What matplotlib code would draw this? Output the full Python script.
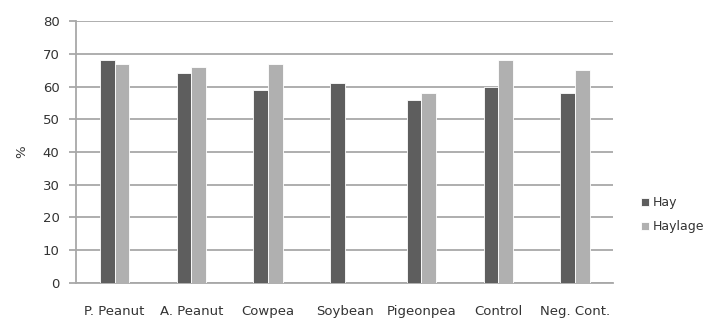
import numpy as np
import matplotlib.pyplot as plt

categories = ["P. Peanut", "A. Peanut", "Cowpea", "Soybean", "Pigeonpea", "Control", "Neg. Cont."]
hay = [68, 64, 59, 61, 56, 60, 58]
haylage = [67, 66, 67, np.nan, 58, 68, 65]

plt.rcParams['font.family'] = ['DejaVu Sans']

fig = plt.figure(figsize=(7.05, 3.2), dpi=100)
ax = fig.add_axes([0.108, 0.116, 0.762, 0.818])

x = np.arange(len(categories))
w = 0.19
ax.bar(x - w / 2, hay, width=w, color="#5e5e5e", edgecolor="white", linewidth=0.6, label="Hay", zorder=3)
ax.bar(x + w / 2, haylage, width=w, color="#b0b0b0", edgecolor="white", linewidth=0.6, label="Haylage", zorder=3)

ax.set_xlim(-0.5, len(categories) - 0.5)
ax.set_ylim(0, 80)
ax.set_yticks(np.arange(0, 81, 10))
ax.yaxis.grid(True, color="#a8a8a8", linewidth=1.3, zorder=0)
ax.set_axisbelow(True)

for s in ["top", "right"]:
    ax.spines[s].set_visible(False)
ax.spines["left"].set_color("#a8a8a8")
ax.spines["bottom"].set_color("#a8a8a8")
ax.spines["left"].set_linewidth(1.3)
ax.spines["bottom"].set_linewidth(1.3)

ax.set_xticks(x)
ax.set_xticklabels(categories)
ax.tick_params(axis="x", length=0, pad=16, labelsize=9.5, labelcolor="#333333")
ax.tick_params(axis="y", length=5, width=1.3, color="#a8a8a8", pad=7, labelsize=9.5, labelcolor="#333333")

ax.set_ylabel("%", fontsize=9.5, color="#333333", labelpad=10)

ax.legend(loc="center left", bbox_to_anchor=(1.052, 0.26), frameon=False, fontsize=9,
          borderaxespad=0, borderpad=0,
          handlelength=0.6, handleheight=0.6, handletextpad=0.3, labelspacing=0.9,
          labelcolor="#333333")

fig.savefig("out.png", dpi=100)
